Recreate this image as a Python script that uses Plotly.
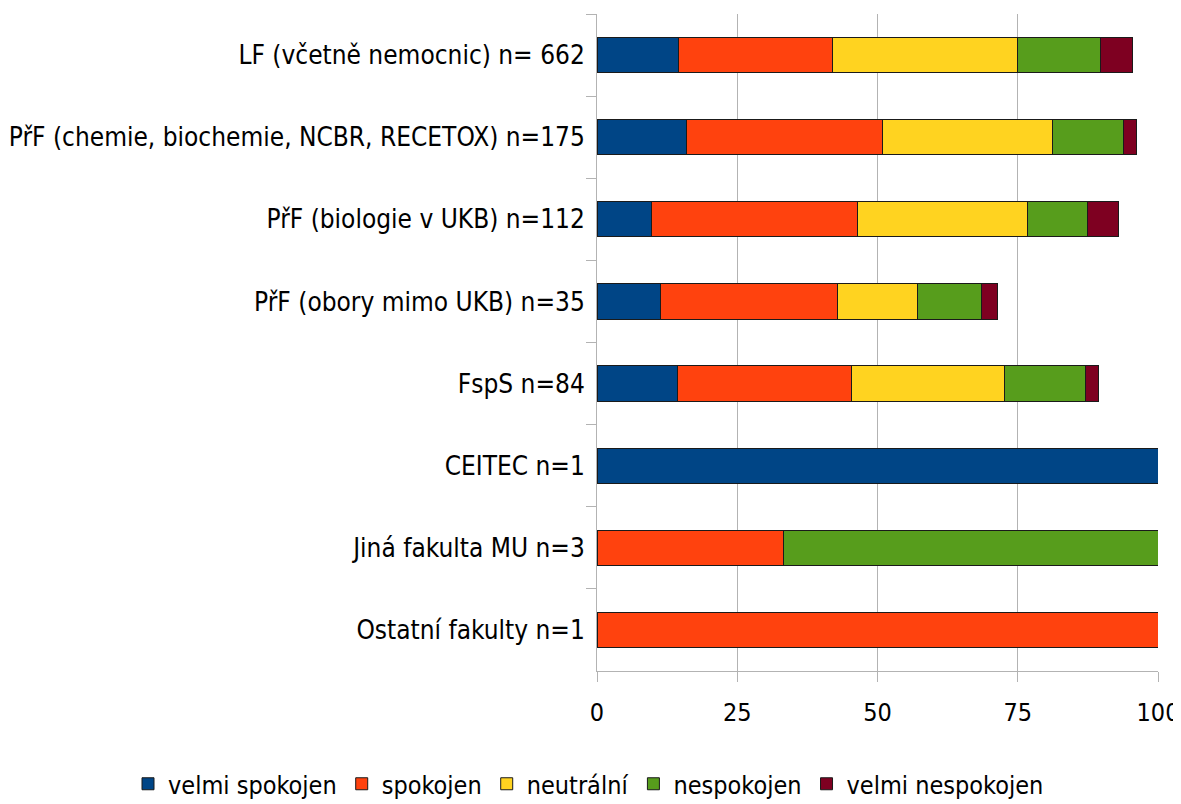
import plotly.graph_objects as go

# categories top to bottom
categories = [
    "LF (včetně nemocnic) n= 662",
    "PřF (chemie, biochemie, NCBR, RECETOX) n=175",
    "PřF (biologie v UKB) n=112",
    "PřF (obory mimo UKB) n=35",
    "FspS n=84",
    "CEITEC n=1",
    "Jiná fakulta MU n=3",
    "Ostatní fakulty n=1",
]

# shares in %
velmi_spokojen   = [14.6, 16.0, 9.8, 11.4, 14.3, 100.0, 0.0, 0.0]
spokojen         = [27.4, 34.9, 36.6, 31.4, 31.0, 0.0, 33.3, 100.0]
neutralni        = [32.9, 30.3, 30.4, 14.3, 27.4, 0.0, 0.0, 0.0]
nespokojen       = [14.9, 12.6, 10.7, 11.4, 14.3, 0.0, 66.7, 0.0]
velmi_nespokojen = [5.7, 2.3, 5.4, 2.9, 2.4, 0.0, 0.0, 0.0]

series = [
    ("velmi spokojen", velmi_spokojen, "#004586"),
    ("spokojen", spokojen, "#ff420e"),
    ("neutrální", neutralni, "#ffd320"),
    ("nespokojen", nespokojen, "#579d1c"),
    ("velmi nespokojen", velmi_nespokojen, "#7e0021"),
]

FONT = "DejaVu Sans Condensed, DejaVu Sans"
GRID = "#b3b3b3"

fig = go.Figure()
for name, vals, color in series:
    fig.add_trace(go.Bar(
        y=categories, x=vals, name=name, orientation="h",
        marker=dict(color=color, line=dict(color="#1a1a1a", width=1)),
    ))

# the page adds an 8px body margin, margins below compensate for it
fig.update_layout(
    barmode="stack",
    bargap=0.57,
    width=1181, height=804,
    margin=dict(l=589, r=31, t=6, b=141, autoexpand=False),
    paper_bgcolor="white", plot_bgcolor="white",
    font=dict(family=FONT, size=26, color="black"),
    showlegend=True,
    # left of and below the plot area so the row may use the whole width
    legend=dict(
        orientation="h", traceorder="normal",
        x=-0.836, xanchor="left", y=-0.172, yanchor="middle",
        font=dict(size=25), itemwidth=30,
    ),
    xaxis=dict(
        range=[0, 100], tickvals=[0, 25, 50, 75, 100],
        showgrid=True, gridcolor=GRID, gridwidth=1,
        showline=True, linecolor=GRID, linewidth=1,
        ticks="outside", ticklen=10, tickcolor=GRID,
        zeroline=False, automargin=False, ticklabelstandoff=9,
        tickfont=dict(size=25),
    ),
    yaxis=dict(
        categoryorder="array", categoryarray=categories, autorange="reversed",
        showline=True, linecolor=GRID, linewidth=1,
        ticks="outside", ticklen=10, tickcolor=GRID, tickson="boundaries",
        showgrid=False, automargin=False, ticklabelstandoff=6,
    ),
)

fig.write_html("out.html")
